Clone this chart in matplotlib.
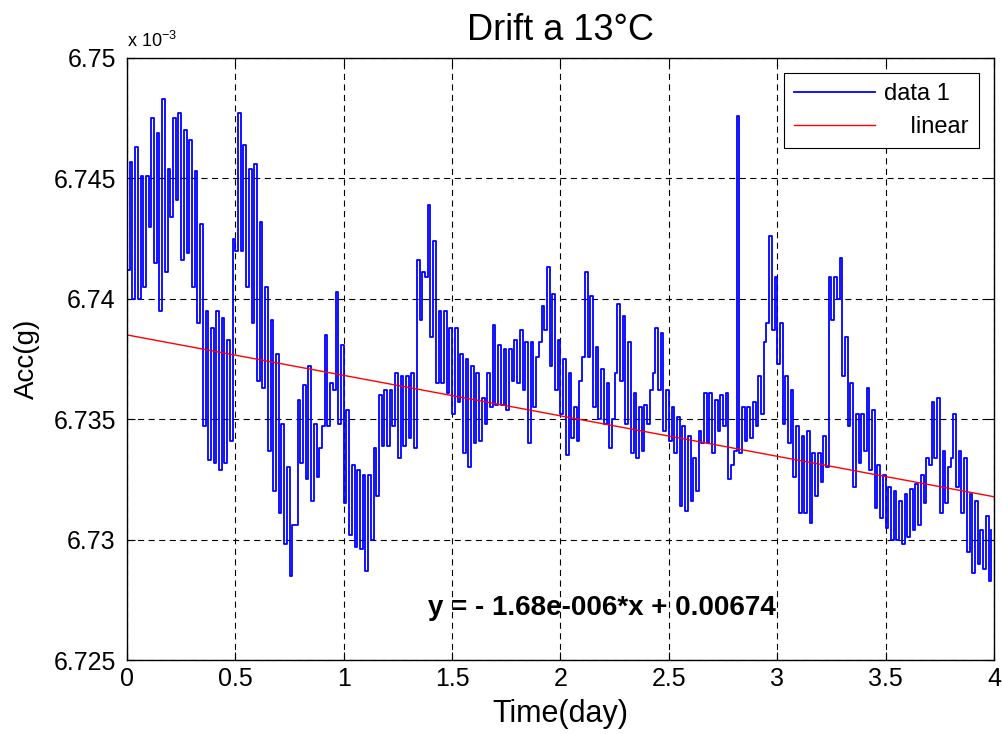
import numpy as np
import matplotlib
matplotlib.use("Agg")
import matplotlib.pyplot as plt
from matplotlib.ticker import FormatStrFormatter

plt.rcParams['font.family'] = ['Liberation Sans', 'DejaVu Sans']

# acc values in units of 1e-3 g, read every 0.025 day (upper / lower edge of the band)
step = 0.025
acc_hi = [
    6.7457, 6.7463, 6.7451, 6.7451, 6.7475, 6.7469, 6.7483, 6.7454,
    6.7475, 6.7477, 6.7470, 6.7466, 6.7453, 6.7431, 6.7395, 6.7388,
    6.7395, 6.7392, 6.7383, 6.7425, 6.7477, 6.7464, 6.7454, 6.7456,
    6.7432, 6.7405, 6.7391, 6.7377, 6.7348, 6.7330, 6.7306, 6.7358,
    6.7364, 6.7372, 6.7348, 6.7338, 6.7385, 6.7365, 6.7403, 6.7381,
    6.7354, 6.7331, 6.7329, 6.7327, 6.7327, 6.7338, 6.7360, 6.7362,
    6.7362, 6.7369, 6.7368, 6.7368, 6.7369, 6.7416, 6.7411, 6.7439,
    6.7424, 6.7395, 6.7395, 6.7388, 6.7388, 6.7377, 6.7375, 6.7372,
    6.7369, 6.7359, 6.7369, 6.7389, 6.7381, 6.7379, 6.7379, 6.7383,
    6.7387, 6.7382, 6.7382, 6.7376, 6.7397, 6.7413, 6.7402, 6.7383,
    6.7375, 6.7369, 6.7355, 6.7366, 6.7411, 6.7401, 6.7380, 6.7371,
    6.7365, 6.7350, 6.7398, 6.7393, 6.7382, 6.7361, 6.7355, 6.7356,
    6.7362, 6.7388, 6.7386, 6.7362, 6.7355, 6.7351, 6.7347, 6.7343,
    6.7334, 6.7345, 6.7361, 6.7361, 6.7358, 6.7360, 6.7361, 6.7331,
    6.7476, 6.7355, 6.7355, 6.7357, 6.7368, 6.7382, 6.7426, 6.7409,
    6.7390, 6.7368, 6.7362, 6.7347, 6.7343, 6.7345, 6.7336, 6.7336,
    6.7343, 6.7409, 6.7409, 6.7417, 6.7384, 6.7365, 6.7352, 6.7352,
    6.7363, 6.7354, 6.7331, 6.7327, 6.7322, 6.7320, 6.7316, 6.7319,
    6.7321, 6.7323, 6.7327, 6.7334, 6.7357, 6.7359, 6.7337, 6.7330,
    6.7352, 6.7337, 6.7334, 6.7319, 6.7316, 6.7304, 6.7310, 6.7304,
]
acc_lo = [
    6.7412, 6.7400, 6.7400, 6.7405, 6.7430, 6.7415, 6.7395, 6.7411,
    6.7434, 6.7441, 6.7416, 6.7419, 6.7405, 6.7390, 6.7347, 6.7333,
    6.7332, 6.7329, 6.7332, 6.7341, 6.7420, 6.7420, 6.7405, 6.7390,
    6.7366, 6.7363, 6.7337, 6.7320, 6.7311, 6.7298, 6.7285, 6.7306,
    6.7332, 6.7325, 6.7316, 6.7326, 6.7347, 6.7347, 6.7362, 6.7348,
    6.7315, 6.7302, 6.7297, 6.7296, 6.7287, 6.7300, 6.7318, 6.7339,
    6.7339, 6.7347, 6.7334, 6.7339, 6.7342, 6.7338, 6.7391, 6.7409,
    6.7384, 6.7365, 6.7365, 6.7361, 6.7352, 6.7357, 6.7336, 6.7330,
    6.7340, 6.7341, 6.7348, 6.7355, 6.7356, 6.7356, 6.7354, 6.7366,
    6.7365, 6.7362, 6.7340, 6.7355, 6.7382, 6.7387, 6.7372, 6.7362,
    6.7352, 6.7335, 6.7342, 6.7341, 6.7376, 6.7376, 6.7355, 6.7350,
    6.7348, 6.7338, 6.7369, 6.7366, 6.7348, 6.7336, 6.7334, 6.7337,
    6.7348, 6.7369, 6.7362, 6.7345, 6.7341, 6.7336, 6.7314, 6.7312,
    6.7316, 6.7320, 6.7340, 6.7340, 6.7336, 6.7345, 6.7347, 6.7325,
    6.7337, 6.7336, 6.7341, 6.7342, 6.7347, 6.7352, 6.7390, 6.7387,
    6.7373, 6.7348, 6.7340, 6.7326, 6.7311, 6.7311, 6.7307, 6.7318,
    6.7324, 6.7330, 6.7391, 6.7400, 6.7368, 6.7347, 6.7322, 6.7332,
    6.7337, 6.7329, 6.7313, 6.7309, 6.7305, 6.7300, 6.7300, 6.7298,
    6.7301, 6.7304, 6.7306, 6.7315, 6.7331, 6.7334, 6.7311, 6.7315,
    6.7334, 6.7322, 6.7311, 6.7295, 6.7286, 6.7290, 6.7288, 6.7283,
]

# linear fit (g per day)
fit_slope = -1.68e-6
fit_intercept = 6.7385e-3
fit_text = 'y = - 1.68e-006*x + 0.00674'

# band drawn as a square wave: lower edge, then upper edge half a step later
n = len(acc_hi)
t = np.arange(n) * step
t_zig = np.column_stack([t, t + step / 2]).ravel()
acc_zig = np.column_stack([acc_lo, acc_hi]).ravel()

t_fit = np.array([0, 4])
acc_fit = (fit_intercept + fit_slope * t_fit) * 1e3

fig = plt.figure(figsize=(10.02, 7.34), dpi=100)
ax = fig.add_axes([0.1267, 0.1008, 0.8653, 0.8202])

ax.plot(t_zig, acc_zig, color=(0, 0, 1), linewidth=1.3,
        drawstyle='steps-post', label='data 1')
ax.plot(t_fit, acc_fit, color='red', linewidth=1.0, label='    linear')

ax.set_xlim(0, 4)
ax.set_ylim(6.725, 6.75)
ax.set_xticks(np.arange(0, 4.01, 0.5))
ax.set_yticks(np.arange(6.725, 6.7501, 0.005))
ax.xaxis.set_major_formatter(FormatStrFormatter('%g'))
ax.yaxis.set_major_formatter(FormatStrFormatter('%g'))

ax.grid(True, color='black', linestyle=(0, (5.5, 4)), linewidth=0.8)
ax.tick_params(direction='in', top=True, right=True, length=6,
               labelsize=18, colors='black')
ax.tick_params(axis='x', pad=5)
ax.tick_params(axis='y', pad=8)
for s in ax.spines.values():
    s.set_linewidth(1.0)

ax.set_title('Drift a 13°C', fontsize=26, pad=13)
ax.set_xlabel('Time(day)', fontsize=22, labelpad=6)
ax.set_ylabel('Acc(g)', fontsize=20, labelpad=10)
ax.text(0.0, 1.012, r'x 10$^{\mathregular{-3}}$', transform=ax.transAxes,
        fontsize=13, ha='left', va='bottom')

ax.text(2.19, 6.72716, fit_text, fontsize=20, fontweight='bold',
        ha='center', va='center')

leg = ax.legend(loc='upper right', fontsize=17, handlelength=3.4,
                handletextpad=0.4, fancybox=False, edgecolor='black',
                framealpha=1, borderaxespad=0.62, labelspacing=0.45,
                borderpad=0.45)
leg.get_frame().set_linewidth(0.8)

fig.savefig('out.png', dpi=100)
